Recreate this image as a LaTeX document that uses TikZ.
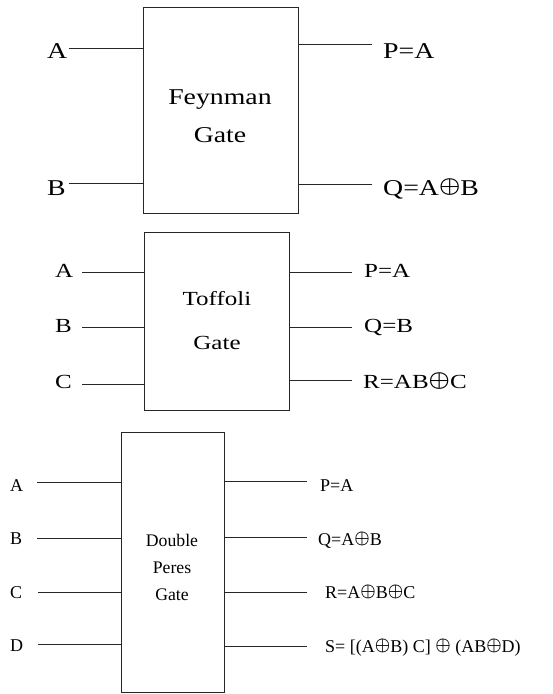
\documentclass[tikz,border=0pt]{standalone}
\usepackage{amsmath}
\usepackage{graphicx}
\usepackage{fontspec}
\setmainfont{Liberation Serif}
\newfontfamily\feyfont[FakeStretch=1.23]{Liberation Serif}
\newfontfamily\toffont[FakeStretch=1.25]{Liberation Serif}
\newcommand{\myxor}[1][1]{\raisebox{0.09em}{\scalebox{#1}[1.05]{$\boldsymbol{\oplus}$}}}
\begin{document}
\begin{tikzpicture}[x=1pt,y=-1pt,
  wire/.style={draw=black!85, line width=1pt},
  gatebox/.style={draw=black!85, line width=1pt, inner sep=0pt},
  flab/.style={inner sep=0pt, font=\feyfont\fontsize{22.6}{26}\selectfont},
  tlab/.style={inner sep=0pt, font=\toffont\fontsize{20}{24}\selectfont},
  dlab/.style={inner sep=0pt, font=\fontsize{18}{22}\selectfont},
  dtext/.style={inner sep=0pt, font=\fontsize{17.7}{21}\selectfont}]
\useasboundingbox (0,0) rectangle (552,694);

% ---------------- Feynman gate ----------------
\node[gatebox, minimum width=155pt, minimum height=206pt] (fg) at (220.5,110) {};
\node[flab, anchor=base] (fgt1) at (220,104) {Feynman};
\node[flab, anchor=base] (fgt2) at (220,142) {Gate};
\node[flab, anchor=base west] (fa) at (47,58) {A};
\node[flab, anchor=base west] (fb) at (47,195) {B};
\coordinate (fa0) at (69,48);
\coordinate (fb0) at (69,183);
\draw[wire] (fa0) -- (fa0 -| fg.west);
\draw[wire] (fb0) -- (fb0 -| fg.west);
\coordinate (fp0) at (372,44);
\coordinate (fq0) at (372,184);
\draw[wire] (fp0 -| fg.east) -- (fp0);
\draw[wire] (fq0 -| fg.east) -- (fq0);
\node[flab, anchor=base west] (fp) at (383,58) {P=A};
\node[flab, anchor=base west] (fq) at (383,195) {Q=A\myxor[1.15]B};

% ---------------- Toffoli gate ----------------
\node[gatebox, minimum width=145pt, minimum height=178pt] (tg) at (216.5,321) {};
\node[tlab, anchor=base] (tgt1) at (217,305) {Toffoli};
\node[tlab, anchor=base] (tgt2) at (217,349) {Gate};
\node[tlab, anchor=base west] (ta) at (55,277) {A};
\node[tlab, anchor=base west] (tb) at (55,332) {B};
\node[tlab, anchor=base west] (tc) at (55,388) {C};
\coordinate (ta0) at (82,272);
\coordinate (tb0) at (82,327);
\coordinate (tc0) at (82,384);
\draw[wire] (ta0) -- (ta0 -| tg.west);
\draw[wire] (tb0) -- (tb0 -| tg.west);
\draw[wire] (tc0) -- (tc0 -| tg.west);
\coordinate (tp0) at (352,272);
\coordinate (tq0) at (352,327);
\coordinate (tr0) at (352,380);
\draw[wire] (tp0 -| tg.east) -- (tp0);
\draw[wire] (tq0 -| tg.east) -- (tq0);
\draw[wire] (tr0 -| tg.east) -- (tr0);
\node[tlab, anchor=base west] (tp) at (364,277) {P=A};
\node[tlab, anchor=base west] (tq) at (364,332) {Q=B};
\node[tlab, anchor=base west] (tr) at (363,388) {R=AB\myxor[1.15]C};

% ---------------- Double Peres gate ----------------
\node[gatebox, minimum width=103pt, minimum height=260pt] (dg) at (172.5,562.5) {};
\node[dtext, anchor=base] (dgt1) at (172,546) {Double};
\node[dtext, anchor=base] (dgt2) at (172,573) {Peres};
\node[dtext, anchor=base] (dgt3) at (172,600) {Gate};
\node[dlab, anchor=base west] (da) at (10,491) {A};
\node[dlab, anchor=base west] (db) at (10,544) {B};
\node[dlab, anchor=base west] (dc) at (10,598) {C};
\node[dlab, anchor=base west] (dd) at (10,651) {D};
\coordinate (da0) at (37,482);
\coordinate (db0) at (37,538);
\coordinate (dc0) at (38,592);
\coordinate (dd0) at (38,644);
\draw[wire] (da0) -- (da0 -| dg.west);
\draw[wire] (db0) -- (db0 -| dg.west);
\draw[wire] (dc0) -- (dc0 -| dg.west);
\draw[wire] (dd0) -- (dd0 -| dg.west);
\coordinate (dp0) at (307,481);
\coordinate (dq0) at (307,537);
\coordinate (dr0) at (307,592);
\coordinate (ds0) at (307,646);
\draw[wire] (dp0 -| dg.east) -- (dp0);
\draw[wire] (dq0 -| dg.east) -- (dq0);
\draw[wire] (dr0 -| dg.east) -- (dr0);
\draw[wire] (ds0 -| dg.east) -- (ds0);
\node[dlab, anchor=base west] (dp) at (320,491) {P=A};
\node[dlab, anchor=base west] (dq) at (318,545) {Q=A\myxor B};
\node[dlab, anchor=base west] (dr) at (325,598) {R=A\myxor B\myxor C};
\node[dlab, anchor=base west] (ds) at (325,652) {S= [(A\myxor B) C] \myxor{} (AB\myxor D)};
\end{tikzpicture}
\end{document}
